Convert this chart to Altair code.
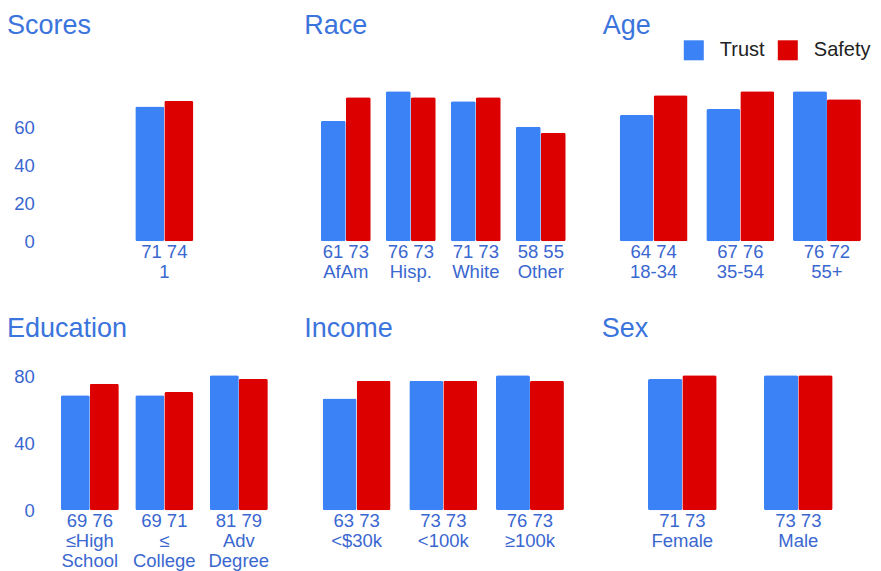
import altair as alt
import pandas as pd

series = ["Trust", "Safety"]
colors = ["#3b82f6", "#dc0000"]

scores_cats = ["1"]
scores_trust = [71]
scores_safety = [74]

race_cats = ["AfAm", "Hisp.", "White", "Other"]
race_trust = [61, 76, 71, 58]
race_safety = [73, 73, 73, 55]

age_cats = ["18-34", "35-54", "55+"]
age_trust = [64, 67, 76]
age_safety = [74, 76, 72]

edu_cats = ["≤High\nSchool", "≤\nCollege", "Adv\nDegree"]
edu_trust = [69, 69, 81]
edu_safety = [76, 71, 79]

income_cats = ["<$30k", "<100k", "≥100k"]
income_trust = [63, 73, 76]
income_safety = [73, 73, 73]

sex_cats = ["Female", "Male"]
sex_trust = [71, 73]
sex_safety = [73, 73]

FONT = "Liberation Sans"
TITLE_COLOR = "#3b74dc"
LABEL_COLOR = "#3a67d0"


def panel(title, cats, trust, safety, ymax, width, height, pi, po,
          ticks, dx, offset):
    rows = []
    lrows = []
    for c, t, s in zip(cats, trust, safety):
        rows.append({"cat": c, "series": "Trust", "value": t})
        rows.append({"cat": c, "series": "Safety", "value": s})
        lrows.append({"cat": c, "label": f"{t} {s}\n{c}"})
    df = pd.DataFrame(rows)
    ldf = pd.DataFrame(lrows)
    if ticks:
        yaxis = alt.Axis(values=ticks, domain=False, ticks=False, tickSize=0,
                         grid=False, labelPadding=18, labelFontSize=18.5,
                         labelFont=FONT, labelColor=LABEL_COLOR, title=None)
    else:
        yaxis = None
    x = alt.X("cat:N", sort=cats,
              scale=alt.Scale(paddingInner=pi, paddingOuter=po), axis=None)
    bars = alt.Chart(df).mark_bar(cornerRadius=2).encode(
        x=x,
        xOffset=alt.XOffset("series:N", sort=series,
                            scale=alt.Scale(paddingInner=0, paddingOuter=0)),
        y=alt.Y("value:Q", scale=alt.Scale(domain=[0, ymax], nice=False),
                axis=yaxis),
        color=alt.Color("series:N", sort=series,
                        scale=alt.Scale(domain=series, range=colors),
                        legend=alt.Legend(orient="none", legendX=631.5,
                                          legendY=-51, direction="horizontal",
                                          title=None, symbolType="square",
                                          symbolSize=400, symbolStrokeWidth=0,
                                          labelFontSize=20, labelFont=FONT,
                                          labelColor="#222222", labelOffset=16,
                                          columnPadding=13, padding=0)),
    )
    labels = alt.Chart(ldf).mark_text(
        font=FONT, fontSize=18.5, color=LABEL_COLOR, baseline="alphabetic",
        lineBreak="\n", lineHeight=20, dy=17, align="center"
    ).encode(x=x, y=alt.datum(0), text="label:N")
    return alt.layer(bars, labels).properties(
        width=width, height=height,
        title=alt.TitleParams(text=title, anchor="start", frame="group",
                              dx=dx, offset=offset, fontSize=27, font=FONT,
                              color=TITLE_COLOR, fontWeight="normal",
                              baseline="alphabetic"),
    )


p1 = panel("Scores", scores_cats, scores_trust, scores_safety, 79, 224, 150,
           0.301, 1.0, [0, 20, 40, 60], -45.2, 30.5)
p2 = panel("Race", race_cats, race_trust, race_safety, 76, 260, 150,
           0.2308, 0.1154, None, -9, 30.5)
p3 = panel("Age", age_cats, age_trust, age_safety, 76, 260, 150,
           0.2157, 0.108, None, -7.5, 30.5)
p4 = panel("Education", edu_cats, edu_trust, edu_safety, 81, 224, 135,
           0.2215, 0.114, [0, 20, 40, 60, 80], -45.2, 4.3)
p5 = panel("Income", income_cats, income_trust, income_safety, 76, 260, 135,
           0.2157, 0.108, None, -9, 11.3)
p6 = panel("Sex", sex_cats, sex_trust, sex_safety, 73, 260, 135,
           0.408, 0.325, None, -8.5, 11.3)

chart = alt.concat(p1, p2, p3, p4, p5, p6, columns=3,
                   spacing={"row": 134, "column": 37}).properties(
    bounds="flush", align="each",
    padding={"left": -1.7, "top": 3.3, "right": 0, "bottom": 0}
).resolve_scale(x="independent", y="independent",
                xOffset="independent").configure_view(stroke=None)

chart.save("out.html", embed_options={"renderer": "svg", "actions": False})
